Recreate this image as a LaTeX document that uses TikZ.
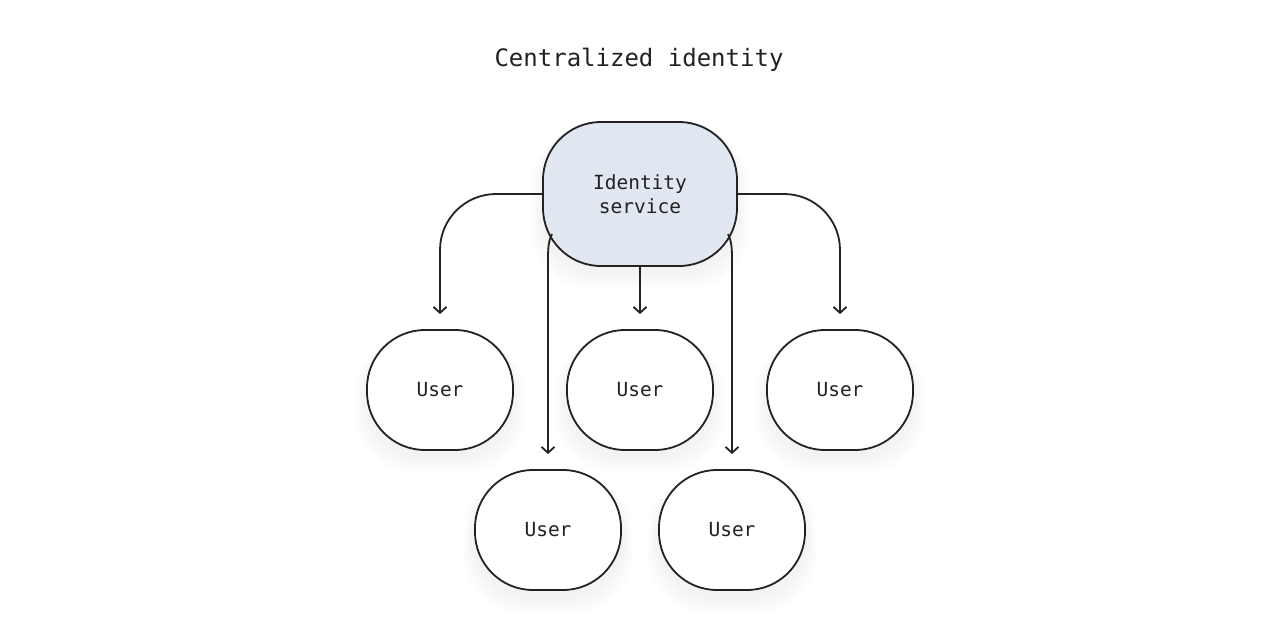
\documentclass[tikz,border=0pt]{standalone}
\usepackage{fontspec}
\setmonofont{DejaVu Sans Mono}
\usetikzlibrary{arrows.meta,calc}
\definecolor{ink}{HTML}{222222}
\definecolor{idfill}{HTML}{E1E7F0}
\begin{document}
\begin{tikzpicture}[x=1pt,y=-1pt,
  box/.style={draw=ink, line width=1.8pt, rounded corners=58pt, font=\ttfamily\fontsize{19.5}{24}\selectfont, text=ink, align=center, inner sep=0pt},
  user/.style={box, fill=white, minimum width=146pt, minimum height=120pt},
  conn/.style={draw=ink, line width=1.8pt, -{Straight Barb[length=6pt,width=13pt,line width=1.8pt]}},
]
\useasboundingbox (0,0) rectangle (1280,638);
\fill[white] (0,0) rectangle (1280,638);
% soft shadows
\foreach \cx/\cy/\w/\h in {640/194/194/144, 440/390/146/120, 640/390/146/120, 840/390/146/120, 548/530/146/120, 732/530/146/120}{
  \foreach \i in {1,...,12}{
    \fill[black, fill opacity=0.005, rounded corners=58pt] (\cx-\w/2-\i, \cy-\h/2+6) rectangle (\cx+\w/2+\i, \cy+\h/2+6+1.5*\i);
  }
}
\node[font=\ttfamily\fontsize{24}{28}\selectfont, text=ink] (title) at (639,60) {Centralized identity};
\node[box, fill=idfill, minimum width=194pt, minimum height=144pt] (id) at (640,194) {Identity\\service};
\node[user] (u1) at (440,390) {User};
\node[user] (u2) at (640,390) {User};
\node[user] (u3) at (840,390) {User};
\node[user] (u4) at (548,530) {User};
\node[user] (u5) at (732,530) {User};
\coordinate (s4) at (552,234);
\coordinate (s5) at (728,234);
\draw[conn, rounded corners=56pt, shorten >=15pt] (id.west) -| (u1.north);
\draw[conn, rounded corners=56pt, shorten >=15pt] (id.east) -| (u3.north);
\draw[conn, shorten >=15pt] (id.south) -- (u2.north);
\draw[conn, shorten >=15pt] (s4) .. controls (548,242) and (548,250) .. (548,262) -- (u4.north);
\draw[conn, shorten >=15pt] (s5) .. controls (732,242) and (732,250) .. (732,262) -- (u5.north);
\end{tikzpicture}
\end{document}
